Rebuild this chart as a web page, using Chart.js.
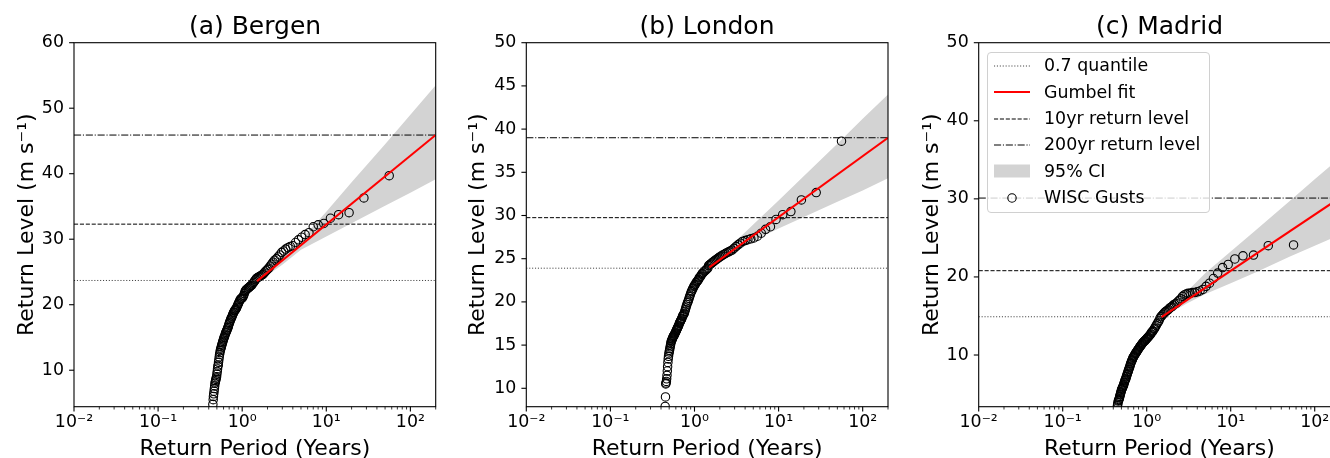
<!DOCTYPE html>
<html>
<head>
<meta charset="utf-8">
<script src="https://cdn.jsdelivr.net/npm/chart.js"></script>
<style>
  html, body { margin: 0; padding: 0; background: #fff; }
  body { position: relative; width: 1330px; height: 458px; overflow: hidden; font-family: 'DejaVu Sans', sans-serif; }
  canvas { position: absolute; top: 0; }
  #legend { position: absolute; left: 987px; top: 52px; width: 223px; height: 161px; box-sizing: border-box;
            border: 1px solid #d0d0d0; border-radius: 4px; background: rgba(255,255,255,0.8); }
  #legend .row { display: flex; align-items: center; height: 26.3px; }
  #legend svg { margin-left: 6px; flex: none; }
  #legend span { margin-left: 14px; font-size: 17.4px; line-height: 1; color: #000; white-space: nowrap; }
</style>
</head>
<body>
<canvas id="bergen" width="510" height="458" style="left:0"></canvas>
<canvas id="london" width="514" height="458" style="left:450px"></canvas>
<canvas id="madrid" width="539" height="458" style="left:890px"></canvas>
<div id="legend"></div>
<script>
// return period (years) of each ranked gust, largest first
const RETURN_PERIOD = [
  56, 28, 18.67, 14, 11.2, 9.33, 8, 7, 6.22, 5.6,
  5.09, 4.67, 4.31, 4, 3.73, 3.5, 3.29, 3.11, 2.95, 2.8,
  2.67, 2.55, 2.43, 2.33, 2.24, 2.15, 2.07, 2, 1.93, 1.87,
  1.81, 1.75, 1.7, 1.65, 1.6, 1.56, 1.51, 1.47, 1.44, 1.4,
  1.37, 1.33, 1.3, 1.27, 1.24, 1.22, 1.19, 1.17, 1.14, 1.12,
  1.1, 1.08, 1.06, 1.04, 1.02, 1, 0.982, 0.966, 0.949, 0.933,
  0.918, 0.903, 0.889, 0.875, 0.862, 0.848, 0.836, 0.824, 0.812, 0.8,
  0.789, 0.778, 0.767, 0.757, 0.747, 0.737, 0.727, 0.718, 0.709, 0.7,
  0.691, 0.683, 0.675, 0.667, 0.659, 0.651, 0.644, 0.636, 0.629, 0.622,
  0.615, 0.609, 0.602, 0.596, 0.589, 0.583, 0.577, 0.571, 0.566, 0.56,
  0.554, 0.549, 0.544, 0.538, 0.533, 0.528, 0.523, 0.519, 0.514, 0.509,
  0.505, 0.5, 0.496, 0.491, 0.487, 0.483, 0.479, 0.475, 0.471, 0.467,
  0.463, 0.459, 0.455, 0.452, 0.448
];

const BERGEN_GUSTS = [
  39.7, 36.3, 34.05, 33.75, 33.2, 32.4, 32.2, 31.9, 31.0, 30.7,
  30.3, 29.9, 29.5, 29.0, 28.9, 28.7, 28.5, 28.2, 28.0, 27.6,
  27.3, 27.0, 26.8, 26.5, 26.2, 25.9, 25.6, 25.4, 25.2, 25.0,
  24.8, 24.6, 24.5, 24.4, 24.3, 24.2, 24.1, 24.0, 23.8, 23.6,
  23.4, 23.2, 23.0, 22.9, 22.8, 22.7, 22.6, 22.5, 22.4, 22.3,
  22.2, 22.0, 21.7, 21.4, 21.2, 21.0, 21.0, 20.9, 20.8, 20.6,
  20.4, 20.2, 20.0, 19.8, 19.6, 19.4, 19.3, 19.2, 19.1, 18.9,
  18.8, 18.6, 18.4, 18.2, 18.0, 17.9, 17.7, 17.5, 17.3, 17.1,
  16.9, 16.6, 16.5, 16.3, 16.1, 16.0, 15.8, 15.7, 15.5, 15.3,
  15.1, 15.0, 14.8, 14.6, 14.4, 14.2, 14.0, 13.8, 13.6, 13.4,
  13.2, 13.0, 12.7, 12.4, 12.0, 11.6, 11.2, 10.8, 10.6, 10.2,
  9.8, 9.4, 9.0, 8.8, 8.6, 8.4, 8.2, 8.0, 7.6, 7.2,
  6.8, 6.4, 6.0, 5.5, 4.8
];

const LONDON_GUSTS = [
  38.6, 32.65, 31.8, 30.45, 30.1, 29.55, 28.7, 28.4, 27.95, 27.6,
  27.4, 27.3, 27.2, 27.1, 27.0, 26.8, 26.6, 26.4, 26.2, 26.0,
  25.9, 25.8, 25.7, 25.6, 25.5, 25.4, 25.3, 25.2, 25.1, 25.0,
  24.9, 24.8, 24.7, 24.6, 24.5, 24.4, 24.3, 24.2, 23.9, 23.8,
  23.7, 23.6, 23.5, 23.4, 23.3, 23.2, 23.0, 22.9, 22.8, 22.6,
  22.5, 22.4, 22.3, 22.2, 22.0, 21.9, 21.8, 21.6, 21.5, 21.3,
  21.2, 21.0, 20.8, 20.6, 20.4, 20.2, 20.0, 19.9, 19.7, 19.5,
  19.3, 19.1, 18.9, 18.7, 18.6, 18.5, 18.4, 18.3, 18.1, 18.0,
  17.9, 17.8, 17.7, 17.6, 17.5, 17.3, 17.2, 17.1, 17.0, 16.9,
  16.8, 16.7, 16.6, 16.5, 16.4, 16.3, 16.2, 16.1, 16.1, 16.0,
  15.9, 15.8, 15.7, 15.6, 15.5, 15.4, 15.2, 15.0, 14.8, 14.6,
  14.4, 14.2, 14.0, 13.7, 13.4, 13.0, 12.5, 12.0, 11.5, 11.1,
  10.8, 10.6, 10.5, 9.0, 7.9
];

const MADRID_GUSTS = [
  24.1, 24.0, 22.8, 22.7, 22.3, 21.6, 21.2, 20.5, 19.8, 19.2,
  18.8, 18.4, 18.2, 18.1, 18.0, 18.0, 17.9, 17.9, 17.8, 17.7,
  17.5, 17.2, 17.0, 16.8, 16.6, 16.5, 16.4, 16.2, 16.1, 16.0,
  15.8, 15.7, 15.6, 15.5, 15.35, 15.2, 15.0, 14.9, 14.7, 14.4,
  14.2, 14.0, 13.8, 13.6, 13.4, 13.3, 13.1, 13.0, 12.9, 12.7,
  12.6, 12.5, 12.4, 12.3, 12.2, 12.1, 12.0, 11.9, 11.8, 11.75,
  11.7, 11.6, 11.5, 11.4, 11.3, 11.2, 11.1, 11.0, 10.9, 10.8,
  10.7, 10.6, 10.5, 10.4, 10.3, 10.2, 10.1, 10.0, 9.9, 9.8,
  9.7, 9.6, 9.4, 9.3, 9.2, 9.0, 8.9, 8.7, 8.5, 8.4,
  8.2, 8.1, 7.9, 7.8, 7.6, 7.5, 7.3, 7.2, 7.0, 6.9,
  6.8, 6.7, 6.5, 6.4, 6.2, 6.1, 6.0, 5.9, 5.8, 5.7,
  5.6, 5.5, 5.3, 5.2, 5.0, 4.9, 4.7, 4.6, 4.4, 4.3,
  4.2, 4.1, 3.9, 3.7, 3.5
];

// Gumbel fit line
const FIT_PERIOD = [1.5, 200];
const BERGEN_FIT = [23.6, 45.9];
const LONDON_FIT = [24.0, 39.0];
const MADRID_FIT = [14.85, 30.15];

// 95% confidence band
const CI_PERIOD = [1.5, 2, 3, 5, 10, 20, 50, 100, 200];
const BERGEN_CI_UPPER = [23.6, 25.4, 27.6, 29.9, 34.2, 38.7, 44.5, 49.0, 53.5];
const BERGEN_CI_LOWER = [23.6, 24.5, 26.1, 28.4, 30.4, 32.45, 35.1, 37.1, 39.15];
const LONDON_CI_UPPER = [24.0, 25.3, 26.9, 28.95, 31.75, 34.56, 38.3, 41.2, 44.0];
const LONDON_CI_LOWER = [24.0, 24.6, 25.7, 27.1, 28.5, 29.83, 31.6, 32.9, 34.3];
const MADRID_CI_UPPER = [14.85, 16.2, 18.1, 20.5, 23.25, 26.0, 29.7, 32.5, 35.25];
const MADRID_CI_LOWER = [14.85, 15.5, 16.6, 17.8, 19.2, 20.6, 22.6, 24.0, 25.4];

// 0.7 quantile, 10yr return level, 200yr return level
const BERGEN_LEVELS = [23.7, 32.3, 45.9];
const LONDON_LEVELS = [23.9, 29.75, 39.0];
const MADRID_LEVELS = [14.9, 20.8, 30.1];

const X_MIN = 0.01, X_MAX = 200;
const X_TICKS = [0.01, 0.1, 1, 10, 100];
const X_TICK_LABELS = ['10⁻²', '10⁻¹', '10⁰', '10¹', '10²'];
const BERGEN_Y_TICKS = [10, 20, 30, 40, 50, 60];
const LONDON_Y_TICKS = [10, 15, 20, 25, 30, 35, 40, 45, 50];
const MADRID_Y_TICKS = [10, 20, 30, 40, 50];

Chart.defaults.font.family = "'DejaVu Sans', sans-serif";
Chart.defaults.color = '#000';

const pts = (xs, ys) => xs.map((x, i) => ({x: x, y: ys[i]}));
const flat = v => [{x: X_MIN, y: v}, {x: X_MAX, y: v}];

// minor log ticks 2..9 in each decade
const MINOR_TICKS = [];
X_TICKS.forEach(m => {
  for (let j = 2; j <= 9; j++) if (m * j <= X_MAX * 1.0001) MINOR_TICKS.push(m * j);
});

// spines and outward tick marks, matplotlib style
const frame = {
  id: 'frame',
  afterDraw(chart) {
    const {ctx, chartArea: a, scales: {x, y}} = chart;
    ctx.save();
    ctx.strokeStyle = '#000';
    x.ticks.forEach(t => {
      const px = x.getPixelForValue(t.value);
      ctx.lineWidth = t.major ? 1.1 : 0.8;
      ctx.beginPath();
      ctx.moveTo(px, a.bottom);
      ctx.lineTo(px, a.bottom + (t.major ? 4.9 : 2.8));
      ctx.stroke();
    });
    ctx.lineWidth = 1.1;
    y.ticks.forEach(t => {
      const py = y.getPixelForValue(t.value);
      ctx.beginPath();
      ctx.moveTo(a.left, py);
      ctx.lineTo(a.left - 4.9, py);
      ctx.stroke();
    });
    ctx.strokeRect(a.left, a.top, a.right - a.left, a.bottom - a.top);
    ctx.restore();
  }
};

function markerSvg(ds) {
  let shape;
  if (ds.fill) {
    shape = '<rect x="0" y="0.5" width="36" height="13" fill="' + ds.backgroundColor + '"/>';
  } else if (ds.showLine === false) {
    shape = '<circle cx="18" cy="7" r="' + ds.pointRadius + '" fill="none" stroke="' + ds.borderColor +
            '" stroke-width="' + ds.borderWidth + '"/>';
  } else {
    shape = '<line x1="0" y1="7" x2="36" y2="7" stroke="' + ds.borderColor + '" stroke-width="' + ds.borderWidth +
            '" stroke-dasharray="' + (ds.borderDash || []).join(' ') + '"/>';
  }
  return '<svg width="36" height="14" viewBox="0 0 36 14">' + shape + '</svg>';
}

const htmlLegend = {
  id: 'htmlLegend',
  afterUpdate(chart, args, opts) {
    const box = document.getElementById(opts.containerID);
    if (!box) return;
    box.innerHTML = '';
    chart.data.datasets.forEach(ds => {
      if (!ds.label) return;
      const row = document.createElement('div');
      row.className = 'row';
      row.innerHTML = markerSvg(ds) + '<span>' + ds.label + '</span>';
      box.appendChild(row);
    });
  }
};

function panel(p) {
  const datasets = [
    {label: '0.7 quantile', data: flat(p.levels[0]), borderColor: '#444', borderWidth: 1,
     borderDash: [1.1, 1.8], pointRadius: 0, order: 1},
    {label: 'Gumbel fit', data: pts(FIT_PERIOD, p.fit), borderColor: '#ff0000', borderWidth: 2,
     pointRadius: 0, order: 0},
    {label: '10yr return level', data: flat(p.levels[1]), borderColor: '#000', borderWidth: 1,
     borderDash: [4.1, 1.8], pointRadius: 0, order: 1},
    {label: '200yr return level', data: flat(p.levels[2]), borderColor: '#000', borderWidth: 1,
     borderDash: [7.1, 1.8, 1.1, 1.8], pointRadius: 0, order: 1},
    {label: '95% CI', data: pts(CI_PERIOD, p.upper), fill: '+1', backgroundColor: '#d3d3d3',
     borderColor: 'rgba(0,0,0,0)', borderWidth: 0, pointRadius: 0, order: 5},
    {label: '', data: pts(CI_PERIOD, p.lower), fill: false, borderColor: 'rgba(0,0,0,0)',
     borderWidth: 0, pointRadius: 0, order: 5},
    {label: 'WISC Gusts', data: pts(RETURN_PERIOD, p.gusts), showLine: false, pointStyle: 'circle',
     pointRadius: 4.2, borderColor: '#000', borderWidth: 1.1, backgroundColor: 'rgba(0,0,0,0)', order: 3}
  ];
  datasets.forEach(d => { d.clip = 0; d.tension = 0; });

  return new Chart(document.getElementById(p.id), {
    type: 'line',
    data: {datasets: datasets},
    plugins: p.legend ? [frame, htmlLegend] : [frame],
    options: {
      responsive: false,
      animation: false,
      events: [],
      layout: {padding: 0},
      plugins: {
        legend: {display: false},
        tooltip: {enabled: false},
        htmlLegend: {containerID: 'legend'},
        title: {
          display: true,
          text: p.title,
          font: {size: 25, weight: 'normal'},
          padding: {top: 12.5, bottom: 0.2}
        }
      },
      scales: {
        x: {
          type: 'logarithmic',
          min: X_MIN,
          max: X_MAX,
          grid: {display: false, drawTicks: false},
          border: {display: false},
          afterBuildTicks: s => {
            s.ticks = X_TICKS.map(v => ({value: v, major: true}))
              .concat(MINOR_TICKS.map(v => ({value: v, major: false})))
              .sort((a, b) => a.value - b.value);
          },
          ticks: {
            autoSkip: false, maxRotation: 0, minRotation: 0, padding: 5.7,
            font: {size: 17.4},
            callback: v => {
              const i = X_TICKS.indexOf(v);
              return i >= 0 ? X_TICK_LABELS[i] : '';
            }
          },
          title: {display: true, text: 'Return Period (Years)', font: {size: 22},
                  padding: {top: 0, bottom: -4.2}},
          afterFit: s => { s.height = 51.3; }
        },
        y: {
          type: 'linear',
          min: p.yMin,
          max: p.yMax,
          grid: {display: false, drawTicks: false},
          border: {display: false},
          afterBuildTicks: s => { s.ticks = p.yTicks.map(v => ({value: v})); },
          ticks: {padding: 10, font: {size: 17.4}, callback: v => String(v)},
          title: {display: true, text: 'Return Level (m s⁻¹)', font: {size: 22},
                  padding: {top: p.yTitlePad, bottom: 0}},
          afterFit: s => { s.width = p.yWidth; }
        },
        // empty right-hand box so the title centres over the plot area
        yRight: {
          type: 'linear',
          position: 'right',
          display: true,
          grid: {display: false, drawTicks: false},
          border: {display: false},
          ticks: {display: false},
          afterFit: s => { s.width = p.padRight; }
        }
      }
    }
  });
}

panel({id: 'bergen', title: '(a) Bergen', gusts: BERGEN_GUSTS, fit: BERGEN_FIT,
       upper: BERGEN_CI_UPPER, lower: BERGEN_CI_LOWER, levels: BERGEN_LEVELS, yTicks: BERGEN_Y_TICKS,
       yMin: 4.43, yMax: 60, yWidth: 74, padRight: 74.3, yTitlePad: 13.6});
panel({id: 'london', title: '(b) London', gusts: LONDON_GUSTS, fit: LONDON_FIT,
       upper: LONDON_CI_UPPER, lower: LONDON_CI_LOWER, levels: LONDON_LEVELS, yTicks: LONDON_Y_TICKS,
       yMin: 7.87, yMax: 50, yWidth: 76.3, padRight: 76, yTitlePad: 15.3});
panel({id: 'madrid', title: '(c) Madrid', gusts: MADRID_GUSTS, fit: MADRID_FIT,
       upper: MADRID_CI_UPPER, lower: MADRID_CI_LOWER, levels: MADRID_LEVELS, yTicks: MADRID_Y_TICKS,
       yMin: 3.38, yMax: 50, yWidth: 88.7, padRight: 89, yTitlePad: 28.6, legend: true});
</script>
</body>
</html>
